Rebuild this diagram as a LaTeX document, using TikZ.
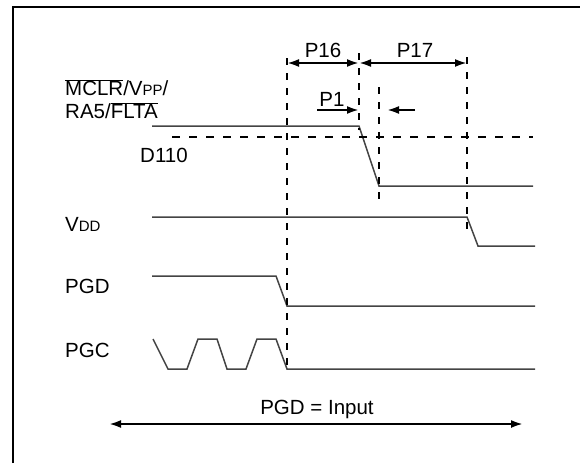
\documentclass[tikz,border=0pt]{standalone}
\usepackage{fontspec}
\setmainfont{Liberation Sans}
\usetikzlibrary{
  arrows.meta,
  positioning
}
\newcommand{\lowcap}[1]{{\fontsize{15pt}{15pt}\selectfont #1}}
\newcommand{\barred}[1]{\ensuremath{\overline{\mbox{#1}}}}
\definecolor{signalgray}{RGB}{68,68,68}
\tikzset{
  signal/.style={draw=signalgray,line width=1.5pt,line join=miter},
  markline/.style={draw=black,line width=2.2pt,dash pattern=on 7pt off 8pt},
  levelline/.style={draw=black,line width=2.2pt,dash pattern=on 8pt off 9pt},
  spanarrow/.style={{Latex[length=12pt,width=8pt]}-{Latex[length=12pt,width=8pt]},line width=2.2pt},
  markarrow/.style={-{Latex[length=12pt,width=8pt]},line width=2.2pt},
  pinlabel/.style={anchor=west,align=left,inner sep=0pt,font=\fontsize{20.5pt}{23pt}\selectfont},
  timelabel/.style={inner sep=0pt,font=\fontsize{20.5pt}{23pt}\selectfont}
}

\begin{document}
\begin{tikzpicture}[x=1pt,y=-1pt]
  \useasboundingbox (0,0) rectangle (580,463);
  \draw[line width=2.5pt] (13,463) -- (13,7) -- (580,7);

  \node[pinlabel] (mclr) at (65,99) {\barred{MCLR}/V\lowcap{PP}/\\RA5/\barred{FLTA}};
  \node[pinlabel] (d110) at (140,155) {D110};
  \node[pinlabel] (vdd) at (65,224) {V\lowcap{DD}};
  \node[pinlabel] (pgd) at (65,286) {PGD};
  \node[pinlabel] (pgc) at (65,350) {PGC};

  \draw[signal] (152,126) -- (359,126) -- (379,186) -- (533,186);
  \draw[signal] (152,217) -- (467,217) -- (478,246) -- (535,246);
  \draw[signal] (152,276) -- (276,276) -- (287,306) -- (535,306);
  \draw[signal] (153,339) -- (168,369) -- (187,369) -- (198,339) -- (217,339) -- (227,369)
    -- (246,369) -- (257,339) -- (276,339) -- (287,369) -- (535,369);

  \draw[levelline] (172,137) -- (533,137);
  \draw[markline] (287,58) -- (287,367);
  \draw[markline] (359,53) -- (359,130);
  \draw[markline] (467,57) -- (467,235);
  \draw[markline] (379,87) -- (379,205);

  \coordinate (p16start) at (287,63);
  \coordinate (p16end) at (359,63);
  \coordinate (p17end) at (467,63);
  \draw[spanarrow] (p16start) -- (p16end);
  \draw[spanarrow] (p16end) -- (p17end);
  \node[timelabel] (p16) at (323,50) {P16};
  \node[timelabel] (p17) at (415,50) {P17};

  \node[timelabel] (p1) at (332,99) {P1};
  \coordinate (p1from) at (317,110);
  \coordinate (p1to) at (359,110);
  \coordinate (backfrom) at (415,110);
  \coordinate (backto) at (387,110);
  \draw[markarrow] (p1from) -- (p1to);
  \draw[markarrow] (backfrom) -- (backto);

  \node[timelabel] (input) at (317,409) {PGD = Input};
  \coordinate (inleft) at (109,424);
  \coordinate (inright) at (523,424);
  \draw[spanarrow] (inleft) -- (inright);
\end{tikzpicture}
\end{document}
